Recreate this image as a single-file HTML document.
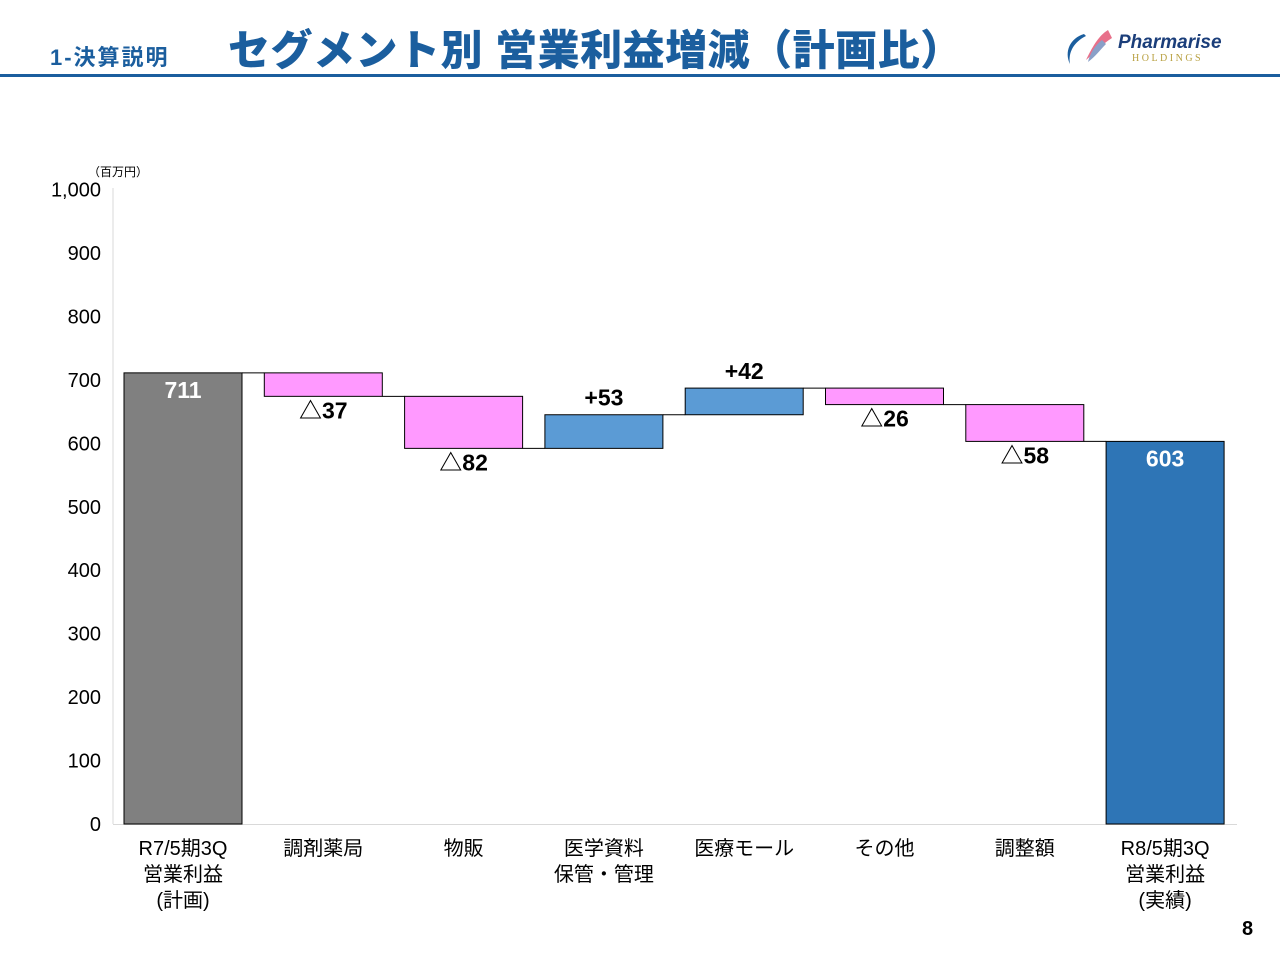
<!DOCTYPE html>
<html><head><meta charset="utf-8">
<style>
body{margin:0;width:1280px;height:960px;background:#fff;font-family:"Liberation Sans","Noto Sans CJK JP",sans-serif;position:relative;overflow:hidden}
.abs{position:absolute}
</style></head>
<body>
<div class="abs" style="left:50px;top:40px;font-size:22px;font-weight:bold;color:#1b5e9e;letter-spacing:2px">1-決算説明</div>
<div class="abs" style="left:228px;top:17px;font-size:42px;font-weight:900;color:#1b5e9e;letter-spacing:0.5px;white-space:nowrap">セグメント別 営業利益増減（計画比）</div>
<div class="abs" style="left:0;top:74px;width:1280px;height:3px;background:#1b5e9e"></div>
<div class="abs" style="left:1062px;top:26px;width:170px;height:44px">
<svg width="60" height="44" style="position:absolute;left:0;top:0"><path d="M22 8 C8 12 2 26 8 38 C6 26 12 16 24 10Z" fill="#1b5e9e"/><path d="M46 4 C36 10 30 22 24 34 C34 26 40 18 50 12Z" fill="#e8708a"/><path d="M40 14 C32 20 28 28 26 36 C34 30 38 24 44 18Z" fill="#8aa0c8"/></svg>
<div class="abs" style="left:56px;top:6px;font-size:19px;font-style:italic;font-weight:bold;color:#1b3e7a">Pharmarise</div>
<div class="abs" style="left:70px;top:27px;font-size:10px;letter-spacing:2.5px;color:#b8a040;font-family:'Liberation Serif',serif">HOLDINGS</div>
</div>
<svg id="chart" class="abs" style="left:0;top:0" width="1280" height="960"></svg>
<div class="abs" style="left:1242px;top:918px;font-size:20px;font-weight:bold">8</div>
<script>
const categories=[["R7/5期3Q","営業利益","(計画)"],["調剤薬局"],["物販"],["医学資料","保管・管理"],["医療モール"],["その他"],["調整額"],["R8/5期3Q","営業利益","(実績)"]];
const values=[711,-37,-82,53,42,-26,-58,603];
const labels=["711","△37","△82","+53","+42","△26","△58","603"];
const ticks=[0,100,200,300,400,500,600,700,800,900,1000];
const tickLabels=["0","100","200","300","400","500","600","700","800","900","1,000"];
const svg=document.getElementById('chart');const NS='http://www.w3.org/2000/svg';
function y(v){return 824-v*0.6345;}
function x(i){return 124+i*140.3;}
const bw=118;
function mk(t,a,name){const e=document.createElementNS(NS,t);for(const k in a)e.setAttribute(k,a[k]);svg.appendChild(e);return e;}
mk('line',{x1:113,y1:188,x2:113,y2:824,stroke:'#d9d9d9','stroke-width':1},'y-axis-line');
mk('line',{x1:113,y1:824.5,x2:1237,y2:824.5,stroke:'#d9d9d9','stroke-width':1},'x-axis-line');
ticks.forEach((t,i)=>{const e=mk('text',{x:101,y:y(t)+7,'text-anchor':'end','font-size':20,fill:'#000'},'y-tick-label');e.textContent=tickLabels[i];});
const u=mk('text',{x:88,y:176,'font-size':12,fill:'#000'},'y-axis-unit');u.textContent='（百万円）';
let cum=0;
values.forEach((v,i)=>{
 let top,bot,fill;
 if(i===0||i===values.length-1){top=v;bot=0;fill=i===0?'#808080':'#2e75b6';cum=v;}
 else{const n=cum+v;top=Math.max(cum,n);bot=Math.min(cum,n);fill=v<0?'#ff99ff':'#5b9bd5';cum=n;}
 mk('rect',{x:x(i),y:y(top),width:bw,height:y(bot)-y(top),fill:fill,stroke:'#000','stroke-width':1},'bar-'+i);
 if(i<values.length-1){mk('line',{x1:x(i)+bw,y1:y(cum),x2:x(i+1),y2:y(cum),stroke:'#000','stroke-width':1},'connector-'+i);}
 let ly,col='#000';
 if(i===0||i===values.length-1){ly=y(top)+25;col='#fff';}
 else if(v<0){ly=y(bot)+22;}else{ly=y(top)-9;}
 const t=mk('text',{x:x(i)+bw/2,y:ly,'text-anchor':'middle','font-size':23,'font-weight':'bold',fill:col},'value-label-'+i);t.textContent=labels[i];
 categories[i].forEach((s,j)=>{const c=mk('text',{x:x(i)+bw/2,y:855+j*26,'text-anchor':'middle','font-size':20,fill:'#000'},'category-label-'+i);c.textContent=s;});
});
</script>
</body></html>
